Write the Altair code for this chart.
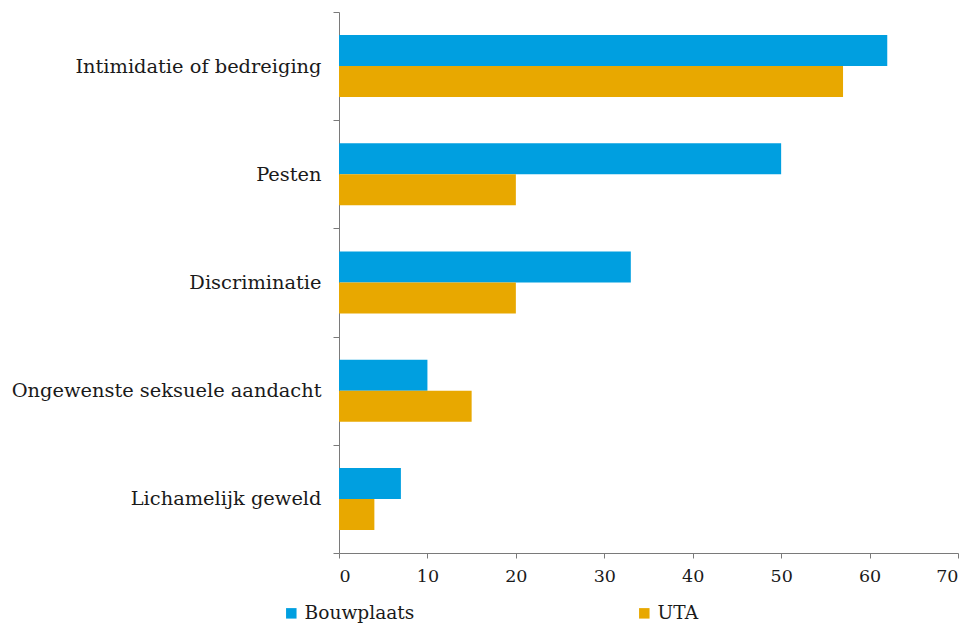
import altair as alt
import pandas as pd

categories = ["Intimidatie of bedreiging", "Pesten", "Discriminatie",
              "Ongewenste seksuele aandacht", "Lichamelijk geweld"]
series = ["Bouwplaats", "UTA"]
bouwplaats = [62, 50, 33, 10, 7]
uta = [57, 20, 20, 15, 4]
colors = ["#009FE0", "#E8A800"]
x_ticks = [0, 10, 20, 30, 40, 50, 60, 70]

rows = []
for c, b, u in zip(categories, bouwplaats, uta):
    rows.append({"cat": c, "serie": series[0], "v": b})
    rows.append({"cat": c, "serie": series[1], "v": u})
df = pd.DataFrame(rows)

FONT = "DejaVu Serif"
W, H = 619, 541

chart = alt.Chart(df).mark_bar().encode(
    y=alt.Y("cat:N", sort=categories, title=None,
            scale=alt.Scale(paddingInner=0, paddingOuter=0),
            axis=alt.Axis(tickBand="extent", labelFontSize=19.4, labelFont=FONT,
                          labelColor="#1a1a1a", labelPadding=12,
                          tickSize=6, tickColor="#7a7a7a", domainColor="#7a7a7a",
                          labelBound=False, labelLimit=400)),
    yOffset=alt.YOffset("serie:N", sort=series,
                        scale=alt.Scale(paddingInner=0, paddingOuter=0.745)),
    x=alt.X("v:Q", title=None,
            scale=alt.Scale(domain=[0, 70], nice=False),
            axis=alt.Axis(values=x_ticks, grid=False, labelFontSize=17.5,
                          labelFont=FONT, labelColor="#1a1a1a",
                          tickSize=5, tickColor="#7a7a7a",
                          domainColor="#7a7a7a", labelPadding=9)),
    color=alt.Color("serie:N", sort=series,
                    scale=alt.Scale(domain=series, range=colors),
                    legend=alt.Legend(title=None, orient="none",
                                      legendX=-57, legendY=592,
                                      direction="horizontal", columns=2,
                                      symbolType="square", symbolSize=110,
                                      symbolStrokeWidth=0, symbolOpacity=1,
                                      labelFontSize=18.6, labelFont=FONT,
                                      labelColor="#1a1a1a", labelLimit=300,
                                      columnPadding=220, symbolOffset=0,
                                      labelOffset=4)),
).properties(
    width=W, height=H,
    autosize=alt.AutoSizeParams(type="none"),
    padding={"left": 331, "top": 4, "right": 5, "bottom": 90},
).configure_view(stroke=None)

chart.save("out.html", embed_options={"renderer": "svg", "actions": False})
